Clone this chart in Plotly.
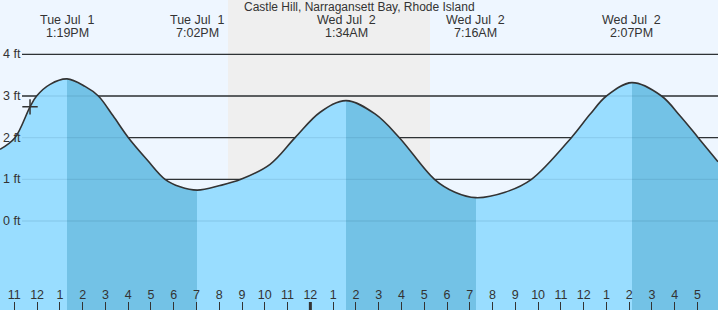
import plotly.graph_objects as go

# ---- data (hours since Tue Jul 1 00:00, height in ft) ----
curve_t = [10.372, 11.03, 11.69, 11.98, 12.57, 13.317, 14.105, 14.69, 15.33, 16.01,
           16.83, 17.62, 18.28, 19.033, 20.03, 20.95, 22.23, 23.33, 24.43, 25.567,
           26.84, 27.91, 29.45, 30.35, 31.267, 32.55, 33.71, 35.46, 36.28, 37.0,
           38.117, 39.42, 40.24, 41.03, 41.9]
curve_h = [1.72, 2.0, 2.74, 3.0, 3.28, 3.41, 3.23, 3.0, 2.53, 2.0,
           1.47, 1.0, 0.82, 0.74, 0.85, 1.0, 1.36, 2.0, 2.61, 2.89,
           2.57, 2.0, 1.0, 0.69, 0.56, 0.69, 1.0, 2.0, 2.56, 3.0,
           3.32, 3.0, 2.52, 2.0, 1.42]

tide_t = [13.317, 19.033, 25.567, 31.267, 38.117]
tide_day = ["Tue Jul\u00a0\u00a01", "Tue Jul\u00a0\u00a01", "Wed Jul\u00a0\u00a02", "Wed Jul\u00a0\u00a02", "Wed Jul\u00a0\u00a02"]
tide_time = ["1:19PM", "7:02PM", "1:34AM", "7:16AM", "2:07PM"]

now_t = [11.69]
now_h = [2.74]

night_start, night_end = 20.385, 29.256

hour_vals = list(range(11, 42))
hour_text = [str((h - 1) % 12 + 1) for h in hour_vals]

ft_vals = [0, 1, 2, 3, 4]
ft_text = ["0 ft", "1 ft", "2 ft", "3 ft", "4 ft"]

title = "Castle Hill, Narragansett Bay, Rhode Island"

x_range = [10.372, 41.9]
y_range = [-2.136, 5.304]

DAY_BG = "#EEF6FF"
NIGHT_BG = "#EFEFEF"
RISE = "#99DDFF"
FALL = "#73C2E6"
INK = "#333333"
FONT = "Liberation Sans, Arial"

span = x_range[1] - x_range[0]
cs = []
cols = [RISE, FALL, RISE, FALL, RISE, FALL]
edges = [0.0] + [(t - x_range[0]) / span for t in tide_t] + [1.0]
for i, c in enumerate(cols):
    cs.append([edges[i], c])
    cs.append([edges[i + 1], c])

fig = go.Figure()
fig.add_trace(go.Scatter(x=x_range, y=[-3, -3], mode="lines",
                         line=dict(width=0), hoverinfo="skip", showlegend=False))
fig.add_trace(go.Scatter(
    x=curve_t, y=curve_h, mode="lines", fill="tonexty",
    line=dict(color=INK, width=1.6, shape="spline", smoothing=1.0),
    fillgradient=dict(type="horizontal", colorscale=cs, start=x_range[0], stop=x_range[1]),
    showlegend=False, hoverinfo="skip"))
fig.add_trace(go.Scatter(
    x=now_t, y=now_h, mode="markers",
    marker=dict(symbol="cross-thin", size=11, line=dict(color=INK, width=1.5)),
    showlegend=False, hoverinfo="skip"))

shapes = [dict(type="rect", xref="x", yref="paper", x0=night_start, x1=night_end,
               y0=0, y1=1, fillcolor=NIGHT_BG, line=dict(width=0), layer="below")]
for v in ft_vals:
    shapes.append(dict(type="line", xref="paper", yref="y", x0=22 / 718, x1=1, y0=v, y1=v,
                       line=dict(color=INK, width=1.3), layer="below"))
    shapes.append(dict(type="line", xref="paper", yref="y", x0=22 / 718, x1=1, y0=v, y1=v,
                       line=dict(color="rgba(0,40,80,0.09)", width=1.3), layer="above"))
shapes.append(dict(type="line", xref="x", yref="paper", x0=24, x1=24, y0=0, y1=8 / 310,
                   line=dict(color=INK, width=3)))

annotations = [dict(text=title, x=0.5, y=1 - 7.5 / 310, xref="paper", yref="paper", xanchor="center",
                    yanchor="middle", showarrow=False,
                    font=dict(family=FONT, size=12, color=INK))]
for t, d, tm in zip(tide_t, tide_day, tide_time):
    annotations.append(dict(text=d, x=t, y=1 - 20 / 310, xref="x", yref="paper",
                            xanchor="center", yanchor="middle", showarrow=False,
                            font=dict(family=FONT, size=12.5, color=INK)))
    annotations.append(dict(text=tm, x=t, y=1 - 33 / 310, xref="x", yref="paper",
                            xanchor="center", yanchor="middle", showarrow=False,
                            font=dict(family=FONT, size=12.5, color=INK)))
for v, s in zip(ft_vals, ft_text):
    annotations.append(dict(text=s, x=0, y=v, xref="paper", yref="y", xanchor="left",
                            yanchor="middle", xshift=1, showarrow=False,
                            font=dict(family=FONT, size=12.5, color=INK)))

fig.update_layout(
    width=718, height=310, margin=dict(l=0, r=0, t=0, b=0),
    plot_bgcolor=DAY_BG, paper_bgcolor=DAY_BG,
    xaxis=dict(range=x_range, tickvals=hour_vals, ticktext=hour_text, ticks="inside",
               ticklen=8, tickcolor=INK, tickwidth=1, ticklabelposition="inside",
               tickfont=dict(family=FONT, size=12.5, color=INK),
               showgrid=False, zeroline=False, showline=False, fixedrange=True),
    yaxis=dict(range=y_range, visible=False, showgrid=False, zeroline=False, fixedrange=True),
    shapes=shapes, annotations=annotations,
)
fig.write_html("out.html")
